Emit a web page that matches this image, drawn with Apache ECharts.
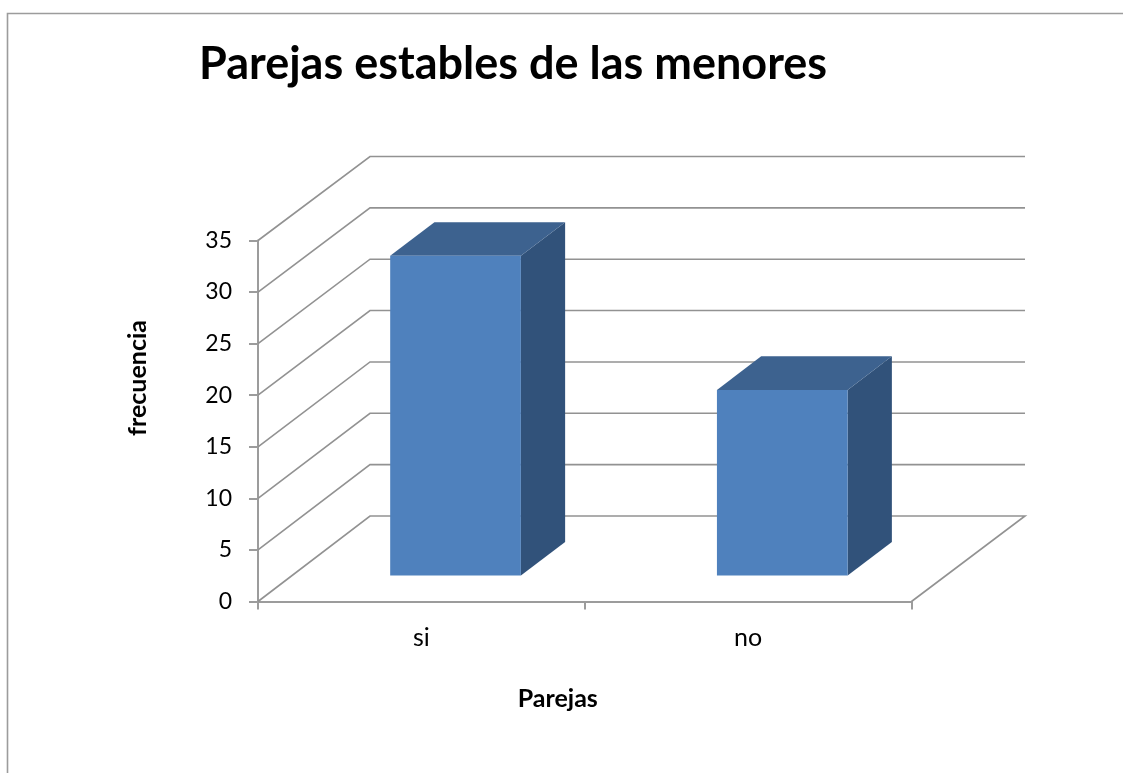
<!DOCTYPE html>
<html>
<head>
<meta charset="utf-8">
<style>html,body{margin:0;padding:0;background:#fff}#c{width:1123px;height:773px}</style>
<script src="https://cdn.jsdelivr.net/npm/echarts@6/dist/echarts.min.js"></script>
</head>
<body>
<div id="c"></div>
<script>
const categories = ['si', 'no'];
const frecuencia = [31, 18];
const yTicks = [0, 5, 10, 15, 20, 25, 30, 35];
const titleText = 'Parejas estables de las menores';
const xName = 'Parejas';
const yName = 'frecuencia';

const DX = 112, DY = -85;
const GRID = '#929292';
const AXIS = '#9c9c9c';
const FONT = 'Lato, "Open Sans", sans-serif';

const chart = echarts.init(document.getElementById('c'), null, {renderer: 'canvas'});
chart.setOption({
  animation: false,
  backgroundColor: '#ffffff',
  title: {
    text: titleText, left: 194, top: 37,
    textStyle: {fontFamily: FONT, fontSize: 45, fontWeight: 'bold', color: '#000'}
  },
  grid: {left: 258, right: 211.5, top: 240.5, bottom: 171.5},
  xAxis: {
    type: 'category', data: categories,
    name: xName, nameLocation: 'middle', nameGap: 85,
    nameTextStyle: {fontFamily: FONT, fontSize: 25, fontWeight: 'bold', color: '#000', padding: [0, 54, 0, 0]},
    axisLine: {lineStyle: {color: AXIS, width: 2}},
    axisTick: {show: true, alignWithLabel: false, length: 8, lineStyle: {color: AXIS, width: 2}},
    axisLabel: {fontFamily: FONT, fontSize: 25, color: '#000', margin: 24},
    splitLine: {show: false}
  },
  yAxis: {
    type: 'value', min: 0, max: 35, interval: 5,
    name: yName, nameLocation: 'middle', nameGap: 108,
    nameTextStyle: {fontFamily: FONT, fontSize: 25, fontWeight: 'bold', color: '#000', padding: [0, 0, 0, 86]},
    axisLine: {show: true, lineStyle: {color: AXIS, width: 2}},
    axisTick: {show: true, length: 9, lineStyle: {color: AXIS, width: 2}},
    axisLabel: {fontFamily: FONT, fontSize: 23, color: '#000', margin: 26, padding: [6, 0, 0, 0]},
    splitLine: {show: false}
  },
  graphic: [{
    type: 'polyline', silent: true,
    shape: {points: [[7.5, 773], [7.5, 13.5], [1123, 13.5]]},
    style: {fill: null, stroke: AXIS, lineWidth: 1.6}
  }],
  series: [
    {
      type: 'custom', z: 1, silent: true,
      data: yTicks.map(v => [v]),
      encode: {y: 0},
      renderItem(params, api) {
        const cs = params.coordSys;
        const v = api.value(0);
        const y = api.coord([0, v])[1];
        const x0 = cs.x;
        const rx = cs.x + cs.width + DX + 1.5;
        const dy = DY - 0.5 + 1.5 * v / 35;
        const pts = [[x0, y], [x0 + DX, y + dy], [rx, y + dy]];
        if (v === 0) pts.push([cs.x + cs.width, y]);
        return {
          type: 'polyline',
          shape: {points: pts},
          style: {fill: null, stroke: GRID, lineWidth: 1.6}
        };
      }
    },
    {
      type: 'custom', z: 3, silent: true,
      data: categories.map((c, i) => [i, frecuencia[i]]),
      encode: {x: 0, y: 1},
      renderItem(params, api) {
        const i = api.value(0), v = api.value(1);
        const band = api.size([1, 0])[0];
        const w = band * 0.4;
        const f = 0.305, b = 0.70;          // bar's place in the chart depth
        const base = api.coord([i, 0]), top = api.coord([i, v]);
        const ox = DX * f, oy = DY * f;
        const dx = DX * (b - f), dy = DY * (b - f);
        const l = base[0] - w / 2 + ox, r = l + w;
        const yb = base[1] + oy, yt = top[1] + oy;
        return {
          type: 'group',
          children: [
            {type: 'polygon', shape: {points: [[r, yt], [r + dx, yt + dy], [r + dx, yb + dy], [r, yb]]},
             style: {fill: '#31527a'}},
            {type: 'polygon', shape: {points: [[l, yt], [l + dx, yt + dy], [r + dx, yt + dy], [r, yt]]},
             style: {fill: '#3d628f'}},
            {type: 'rect', shape: {x: l, y: yt, width: w, height: yb - yt},
             style: {fill: '#4f81bd'}}
          ]
        };
      }
    }
  ]
});
</script>
</body>
</html>
